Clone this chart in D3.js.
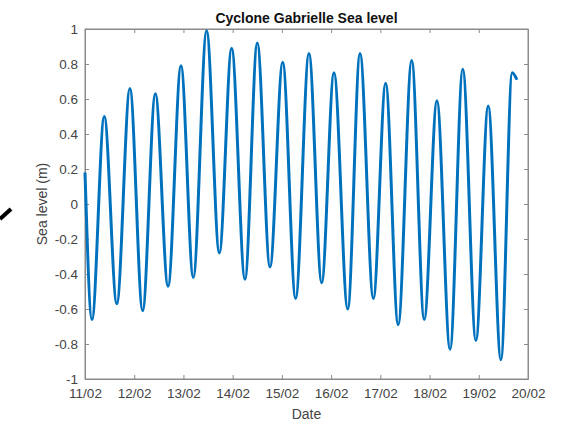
<!DOCTYPE html>
<html>
<head>
<meta charset="utf-8">
<script src="https://cdn.jsdelivr.net/npm/d3@7"></script>
<style>
  body { margin: 0; background: #fff; }
  text { font-family: "Liberation Sans", Arial, sans-serif; }
</style>
</head>
<body>
<div id="chart"></div>
<script>
const hours = [0, 3.4, 9.4, 15.5, 21.9, 28.1, 34.3, 40.5, 46.8, 52.8, 59.3, 65.5, 71.5, 78.0,
  84.0, 90.2, 96.4, 102.7, 109.2, 115.4, 121.4, 128.1, 134.1, 140.6, 146.6, 152.7, 159.3,
  165.4, 171.6, 178.0, 184.2, 190.6, 196.6, 202.8, 208.3, 210.6];
const level = [0.18, -0.66, 0.50, -0.57, 0.66, -0.61, 0.63, -0.47, 0.79, -0.42, 0.99, -0.28,
  0.89, -0.43, 0.92, -0.36, 0.81, -0.54, 0.86, -0.45, 0.75, -0.60, 0.86, -0.54, 0.69, -0.69,
  0.82, -0.66, 0.59, -0.83, 0.77, -0.78, 0.56, -0.89, 0.75, 0.71];
const yTicks = [-1, -0.8, -0.6, -0.4, -0.2, 0, 0.2, 0.4, 0.6, 0.8, 1];

const start = new Date(2023, 1, 11);
const end = new Date(2023, 1, 20);
const data = hours.map((h, i) => ({ t: d3.timeHour.offset(start, 0) .getTime() + h * 3600000, v: level[i] }));

const margin = { top: 29, right: 36, bottom: 46, left: 85 },
  width = 564 - margin.left - margin.right,
  height = 425 - margin.top - margin.bottom;

const svg = d3.select("#chart")
  .append("svg")
  .attr("width", 564)
  .attr("height", 425);

const g = svg.append("g")
  .attr("transform", `translate(${margin.left},${margin.top})`);

const x = d3.scaleTime().domain([start, end]).range([0, width]);
const y = d3.scaleLinear().domain([-1, 1]).range([height, 0]);

const dayTicks = d3.timeDay.range(start, d3.timeDay.offset(end, 1));
const axisCol = "#8a8a8a", textCol = "#444";

// box
g.append("rect")
  .attr("width", width).attr("height", height)
  .attr("fill", "none").attr("stroke", axisCol).attr("stroke-width", 1);

// axes with inward ticks
const xAxis = g.append("g")
  .attr("transform", `translate(0,${height})`)
  .call(d3.axisBottom(x).tickValues(dayTicks).tickFormat(d3.timeFormat("%d/%m"))
    .tickSizeInner(-4).tickSizeOuter(0).tickPadding(9));
const yAxis = g.append("g")
  .call(d3.axisLeft(y).tickValues(yTicks).tickFormat(d => String(+d.toFixed(1)))
    .tickSizeInner(-4).tickSizeOuter(0).tickPadding(7));
g.append("g")
  .call(d3.axisTop(x).tickValues(dayTicks).tickFormat("").tickSizeInner(-4).tickSizeOuter(0));
g.append("g")
  .attr("transform", `translate(${width},0)`)
  .call(d3.axisRight(y).tickValues(yTicks).tickFormat("").tickSizeInner(-4).tickSizeOuter(0));

g.selectAll(".domain").attr("stroke", axisCol);
g.selectAll(".tick line").attr("stroke", axisCol);
g.selectAll(".tick text").attr("fill", textCol).style("font-size", "13.5px")
  .style("font-family", "'Liberation Sans', Arial, sans-serif");

// sea level line
const line = d3.line()
  .x(d => x(d.t))
  .y(d => y(d.v))
  .curve(d3.curveMonotoneX);

g.append("path")
  .datum(data)
  .attr("fill", "none")
  .attr("stroke", "#0072BD")
  .attr("stroke-width", 3)
  .attr("stroke-linejoin", "round")
  .attr("d", line);

// title and labels
svg.append("text")
  .attr("x", margin.left + width / 2).attr("y", 23)
  .attr("text-anchor", "middle")
  .style("font-size", "14px").style("font-weight", "bold")
  .attr("fill", "#111")
  .text("Cyclone Gabrielle Sea level");

svg.append("text")
  .attr("x", margin.left + width / 2).attr("y", 419)
  .attr("text-anchor", "middle")
  .style("font-size", "14px")
  .attr("fill", textCol)
  .text("Date");

svg.append("text")
  .attr("transform", `translate(47,${margin.top + height / 2}) rotate(-90)`)
  .attr("text-anchor", "middle")
  .style("font-size", "14px")
  .attr("fill", textCol)
  .text("Sea level (m)");

// stray black pen stroke at the left edge of the photo
svg.append("line")
  .attr("x1", 0).attr("y1", 219).attr("x2", 11).attr("y2", 209)
  .attr("stroke", "#000").attr("stroke-width", 4);
</script>
</body>
</html>
